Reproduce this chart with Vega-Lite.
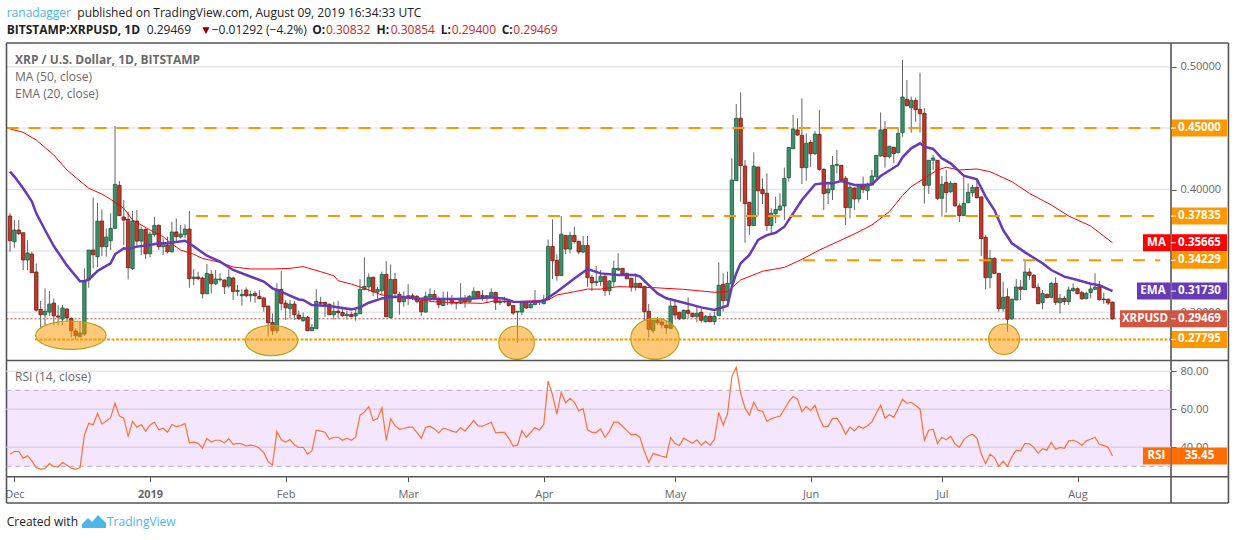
{
"$schema":"https://vega.github.io/schema/vega-lite/v6.json",
"autosize":{"type":"none"},
"width":1234,"height":540,"padding":{"left":0,"right":0,"top":0,"bottom":0},"background":"white",
"config":{"view":{"stroke":null},"font":"Open Sans","axis":{"labelFont":"Open Sans"}},
"datasets":{
"candles":[
{"d":"2018-11-30","o":0.3784,"h":0.3806,"l":0.3493,"c":0.3583},{"d":"2018-12-01","o":0.3575,"h":0.3751,"l":0.3526,"c":0.367},{"d":"2018-12-02","o":0.367,"h":0.3751,"l":0.3629,"c":0.364},{"d":"2018-12-03","o":0.3648,"h":0.3648,"l":0.3344,"c":0.3426},{"d":"2018-12-04","o":0.3426,"h":0.3588,"l":0.3344,"c":0.3483},{"d":"2018-12-05","o":0.3474,"h":0.3493,"l":0.3322,"c":0.3322},{"d":"2018-12-06","o":0.3328,"h":0.3398,"l":0.3005,"c":0.3018},{"d":"2018-12-07","o":0.3024,"h":0.3092,"l":0.2864,"c":0.298},{"d":"2018-12-08","o":0.298,"h":0.3195,"l":0.2896,"c":0.301},{"d":"2018-12-09","o":0.3002,"h":0.3173,"l":0.297,"c":0.3067},
{"d":"2018-12-10","o":0.3075,"h":0.3113,"l":0.2896,"c":0.2972},{"d":"2018-12-11","o":0.297,"h":0.3059,"l":0.2896,"c":0.2961},{"d":"2018-12-12","o":0.2945,"h":0.3059,"l":0.2896,"c":0.3035},{"d":"2018-12-13","o":0.3027,"h":0.3032,"l":0.2923,"c":0.2956},{"d":"2018-12-14","o":0.295,"h":0.2959,"l":0.2796,"c":0.285},{"d":"2018-12-15","o":0.2847,"h":0.2869,"l":0.2779,"c":0.2809},{"d":"2018-12-16","o":0.2801,"h":0.2923,"l":0.2796,"c":0.2831},{"d":"2018-12-17","o":0.2823,"h":0.3358,"l":0.2809,"c":0.326},{"d":"2018-12-18","o":0.3263,"h":0.3507,"l":0.32,"c":0.3507},{"d":"2018-12-19","o":0.3507,"h":0.3936,"l":0.3358,"c":0.3469},
{"d":"2018-12-20","o":0.3453,"h":0.3892,"l":0.3366,"c":0.3743},{"d":"2018-12-21","o":0.3743,"h":0.3838,"l":0.3458,"c":0.3534},{"d":"2018-12-22","o":0.3534,"h":0.3683,"l":0.3453,"c":0.3613},{"d":"2018-12-23","o":0.3583,"h":0.3806,"l":0.3507,"c":0.3683},{"d":"2018-12-24","o":0.3684,"h":0.4517,"l":0.368,"c":0.4042},{"d":"2018-12-25","o":0.4034,"h":0.4069,"l":0.3787,"c":0.3787},{"d":"2018-12-26","o":0.3776,"h":0.3914,"l":0.3548,"c":0.3751},{"d":"2018-12-27","o":0.3757,"h":0.3819,"l":0.3268,"c":0.3363},{"d":"2018-12-28","o":0.3355,"h":0.3825,"l":0.3344,"c":0.3743},{"d":"2018-12-29","o":0.3743,"h":0.3833,"l":0.3534,"c":0.358},
{"d":"2018-12-30","o":0.358,"h":0.3697,"l":0.3466,"c":0.3675},{"d":"2018-12-31","o":0.3675,"h":0.3683,"l":0.3434,"c":0.3477},{"d":"2019-01-01","o":0.3477,"h":0.3656,"l":0.3447,"c":0.3637},{"d":"2019-01-02","o":0.3632,"h":0.3778,"l":0.3616,"c":0.3708},{"d":"2019-01-03","o":0.3708,"h":0.3716,"l":0.3507,"c":0.3534},{"d":"2019-01-04","o":0.3534,"h":0.3602,"l":0.3466,"c":0.3569},{"d":"2019-01-05","o":0.3548,"h":0.3616,"l":0.348,"c":0.3493},{"d":"2019-01-06","o":0.3493,"h":0.3738,"l":0.3485,"c":0.3654},{"d":"2019-01-07","o":0.3654,"h":0.3765,"l":0.3575,"c":0.3616},{"d":"2019-01-08","o":0.3613,"h":0.3711,"l":0.3602,"c":0.3637},
{"d":"2019-01-09","o":0.3632,"h":0.3716,"l":0.3602,"c":0.3678},{"d":"2019-01-10","o":0.3678,"h":0.3825,"l":0.32,"c":0.3274},{"d":"2019-01-11","o":0.3274,"h":0.3352,"l":0.3222,"c":0.3287},{"d":"2019-01-12","o":0.3287,"h":0.3331,"l":0.3263,"c":0.3274},{"d":"2019-01-13","o":0.3279,"h":0.329,"l":0.3113,"c":0.3151},{"d":"2019-01-14","o":0.3151,"h":0.3393,"l":0.3149,"c":0.3317},{"d":"2019-01-15","o":0.3309,"h":0.3344,"l":0.3154,"c":0.3233},{"d":"2019-01-16","o":0.3233,"h":0.3344,"l":0.3222,"c":0.3271},{"d":"2019-01-17","o":0.3265,"h":0.3317,"l":0.3249,"c":0.3271},{"d":"2019-01-18","o":0.3263,"h":0.3268,"l":0.3149,"c":0.3208},
{"d":"2019-01-19","o":0.3214,"h":0.335,"l":0.3195,"c":0.3285},{"d":"2019-01-20","o":0.3279,"h":0.329,"l":0.31,"c":0.317},{"d":"2019-01-21","o":0.317,"h":0.3222,"l":0.3132,"c":0.3179},{"d":"2019-01-22","o":0.3135,"h":0.3187,"l":0.3054,"c":0.3146},{"d":"2019-01-23","o":0.3181,"h":0.3203,"l":0.3122,"c":0.3135},{"d":"2019-01-24","o":0.3135,"h":0.3176,"l":0.3086,"c":0.3146},{"d":"2019-01-25","o":0.3154,"h":0.3173,"l":0.3078,"c":0.3135},{"d":"2019-01-26","o":0.313,"h":0.3181,"l":0.3105,"c":0.3111},{"d":"2019-01-27","o":0.3116,"h":0.3127,"l":0.3005,"c":0.3046},{"d":"2019-01-28","o":0.3051,"h":0.3051,"l":0.2801,"c":0.2915},
{"d":"2019-01-29","o":0.2918,"h":0.2991,"l":0.2815,"c":0.285},{"d":"2019-01-30","o":0.285,"h":0.3236,"l":0.2828,"c":0.3187},{"d":"2019-01-31","o":0.3187,"h":0.3336,"l":0.3018,"c":0.3073},{"d":"2019-02-01","o":0.3075,"h":0.31,"l":0.2937,"c":0.3037},{"d":"2019-02-02","o":0.3029,"h":0.31,"l":0.295,"c":0.3067},{"d":"2019-02-03","o":0.3067,"h":0.3094,"l":0.2937,"c":0.298},{"d":"2019-02-04","o":0.2978,"h":0.3013,"l":0.2937,"c":0.2948},{"d":"2019-02-05","o":0.2932,"h":0.2997,"l":0.2923,"c":0.2959},{"d":"2019-02-06","o":0.2959,"h":0.297,"l":0.2847,"c":0.285},{"d":"2019-02-07","o":0.285,"h":0.2904,"l":0.285,"c":0.2877},
{"d":"2019-02-08","o":0.2866,"h":0.3189,"l":0.2866,"c":0.3089},{"d":"2019-02-09","o":0.3081,"h":0.3127,"l":0.3046,"c":0.3073},{"d":"2019-02-10","o":0.3081,"h":0.3086,"l":0.2964,"c":0.3065},{"d":"2019-02-11","o":0.3065,"h":0.3073,"l":0.2978,"c":0.298},{"d":"2019-02-12","o":0.298,"h":0.3086,"l":0.2942,"c":0.3008},{"d":"2019-02-13","o":0.301,"h":0.3092,"l":0.295,"c":0.2997},{"d":"2019-02-14","o":0.2999,"h":0.3032,"l":0.2964,"c":0.2972},{"d":"2019-02-15","o":0.2972,"h":0.3013,"l":0.2942,"c":0.2983},{"d":"2019-02-16","o":0.2983,"h":0.3005,"l":0.2959,"c":0.2964},{"d":"2019-02-17","o":0.297,"h":0.3032,"l":0.2932,"c":0.2991},
{"d":"2019-02-18","o":0.2988,"h":0.3271,"l":0.2988,"c":0.3187},{"d":"2019-02-19","o":0.3184,"h":0.3447,"l":0.3181,"c":0.3211},{"d":"2019-02-20","o":0.3208,"h":0.3317,"l":0.3168,"c":0.3285},{"d":"2019-02-21","o":0.3285,"h":0.329,"l":0.3132,"c":0.3168},{"d":"2019-02-22","o":0.3165,"h":0.3208,"l":0.3113,"c":0.3187},{"d":"2019-02-23","o":0.3176,"h":0.3331,"l":0.3141,"c":0.3309},{"d":"2019-02-24","o":0.3309,"h":0.3417,"l":0.2959,"c":0.2964},{"d":"2019-02-25","o":0.2956,"h":0.339,"l":0.295,"c":0.3268},{"d":"2019-02-26","o":0.3268,"h":0.3322,"l":0.3127,"c":0.3154},{"d":"2019-02-27","o":0.3146,"h":0.3168,"l":0.298,"c":0.3086},
{"d":"2019-02-28","o":0.3086,"h":0.3168,"l":0.3046,"c":0.3127},{"d":"2019-03-01","o":0.3122,"h":0.323,"l":0.3059,"c":0.3135},{"d":"2019-03-02","o":0.3135,"h":0.3154,"l":0.31,"c":0.3122},{"d":"2019-03-03","o":0.313,"h":0.3141,"l":0.3073,"c":0.3089},{"d":"2019-03-04","o":0.3094,"h":0.31,"l":0.297,"c":0.3005},{"d":"2019-03-05","o":0.3002,"h":0.3168,"l":0.2997,"c":0.313},{"d":"2019-03-06","o":0.3124,"h":0.3195,"l":0.3086,"c":0.3146},{"d":"2019-03-07","o":0.3146,"h":0.3181,"l":0.31,"c":0.3103},{"d":"2019-03-08","o":0.3105,"h":0.3127,"l":0.3032,"c":0.3062},{"d":"2019-03-09","o":0.3054,"h":0.3168,"l":0.3051,"c":0.3113},
{"d":"2019-03-10","o":0.3113,"h":0.3168,"l":0.3059,"c":0.3103},{"d":"2019-03-11","o":0.3105,"h":0.3141,"l":0.3059,"c":0.3075},{"d":"2019-03-12","o":0.3081,"h":0.3086,"l":0.3024,"c":0.3075},{"d":"2019-03-13","o":0.3075,"h":0.3236,"l":0.3067,"c":0.3113},{"d":"2019-03-14","o":0.3113,"h":0.3141,"l":0.3037,"c":0.3086},{"d":"2019-03-15","o":0.3086,"h":0.3141,"l":0.3081,"c":0.313},{"d":"2019-03-16","o":0.3122,"h":0.3203,"l":0.3122,"c":0.317},{"d":"2019-03-17","o":0.317,"h":0.317,"l":0.3127,"c":0.3127},{"d":"2019-03-18","o":0.3138,"h":0.3181,"l":0.3094,"c":0.3127},{"d":"2019-03-19","o":0.3127,"h":0.3141,"l":0.3086,"c":0.3135},
{"d":"2019-03-20","o":0.3132,"h":0.3195,"l":0.3127,"c":0.3162},{"d":"2019-03-21","o":0.3162,"h":0.3168,"l":0.3018,"c":0.3078},{"d":"2019-03-22","o":0.3078,"h":0.31,"l":0.3059,"c":0.3089},{"d":"2019-03-23","o":0.3084,"h":0.3127,"l":0.3073,"c":0.3089},{"d":"2019-03-24","o":0.3089,"h":0.31,"l":0.3046,"c":0.3056},{"d":"2019-03-25","o":0.3056,"h":0.3059,"l":0.2978,"c":0.2994},{"d":"2019-03-26","o":0.3002,"h":0.3008,"l":0.2752,"c":0.3008},{"d":"2019-03-27","o":0.3002,"h":0.3086,"l":0.2978,"c":0.3084},{"d":"2019-03-28","o":0.3084,"h":0.3086,"l":0.3029,"c":0.3035},{"d":"2019-03-29","o":0.3037,"h":0.3086,"l":0.3032,"c":0.3065},
{"d":"2019-03-30","o":0.3062,"h":0.3181,"l":0.3059,"c":0.3094},{"d":"2019-03-31","o":0.3097,"h":0.31,"l":0.3059,"c":0.3084},{"d":"2019-04-01","o":0.307,"h":0.3141,"l":0.3065,"c":0.3105},{"d":"2019-04-02","o":0.3105,"h":0.3594,"l":0.31,"c":0.3537},{"d":"2019-04-03","o":0.3537,"h":0.3757,"l":0.3271,"c":0.342},{"d":"2019-04-04","o":0.3423,"h":0.3472,"l":0.3257,"c":0.3298},{"d":"2019-04-05","o":0.3298,"h":0.3784,"l":0.3298,"c":0.3635},{"d":"2019-04-06","o":0.3626,"h":0.3629,"l":0.3474,"c":0.3515},{"d":"2019-04-07","o":0.3515,"h":0.3656,"l":0.348,"c":0.3626},{"d":"2019-04-08","o":0.3626,"h":0.3697,"l":0.3561,"c":0.3575},
{"d":"2019-04-09","o":0.3578,"h":0.3583,"l":0.3474,"c":0.3491},{"d":"2019-04-10","o":0.3491,"h":0.3621,"l":0.348,"c":0.3545},{"d":"2019-04-11","o":0.3545,"h":0.3621,"l":0.3208,"c":0.3282},{"d":"2019-04-12","o":0.3285,"h":0.3303,"l":0.3173,"c":0.3241},{"d":"2019-04-13","o":0.3241,"h":0.3377,"l":0.3214,"c":0.3252},{"d":"2019-04-14","o":0.3249,"h":0.3344,"l":0.3214,"c":0.3293},{"d":"2019-04-15","o":0.3293,"h":0.3317,"l":0.3133,"c":0.3176},{"d":"2019-04-16","o":0.3176,"h":0.3263,"l":0.3141,"c":0.3255},{"d":"2019-04-17","o":0.3249,"h":0.342,"l":0.3209,"c":0.3358},{"d":"2019-04-18","o":0.3344,"h":0.348,"l":0.3339,"c":0.3358},
{"d":"2019-04-19","o":0.3358,"h":0.3358,"l":0.3304,"c":0.3312},{"d":"2019-04-20","o":0.3317,"h":0.3323,"l":0.3268,"c":0.3274},{"d":"2019-04-21","o":0.3277,"h":0.3282,"l":0.3168,"c":0.3206},{"d":"2019-04-22","o":0.3206,"h":0.3317,"l":0.3176,"c":0.3236},{"d":"2019-04-23","o":0.3236,"h":0.3241,"l":0.3195,"c":0.3203},{"d":"2019-04-24","o":0.3209,"h":0.3214,"l":0.2937,"c":0.3005},{"d":"2019-04-25","o":0.3008,"h":0.3068,"l":0.2796,"c":0.2861},{"d":"2019-04-26","o":0.285,"h":0.2943,"l":0.2829,"c":0.2935},{"d":"2019-04-27","o":0.2937,"h":0.2959,"l":0.2897,"c":0.2916},{"d":"2019-04-28","o":0.2921,"h":0.2951,"l":0.2869,"c":0.2899},
{"d":"2019-04-29","o":0.2894,"h":0.2937,"l":0.2823,"c":0.2875},{"d":"2019-04-30","o":0.2869,"h":0.3095,"l":0.2869,"c":0.3051},{"d":"2019-05-01","o":0.3051,"h":0.3087,"l":0.2951,"c":0.2978},{"d":"2019-05-02","o":0.3,"h":0.3005,"l":0.2937,"c":0.2948},{"d":"2019-05-03","o":0.2948,"h":0.3024,"l":0.2943,"c":0.3016},{"d":"2019-05-04","o":0.3016,"h":0.3122,"l":0.2951,"c":0.2992},{"d":"2019-05-05","o":0.2992,"h":0.2997,"l":0.2959,"c":0.2964},{"d":"2019-05-06","o":0.2964,"h":0.3046,"l":0.2918,"c":0.2992},{"d":"2019-05-07","o":0.3,"h":0.3032,"l":0.2916,"c":0.2935},{"d":"2019-05-08","o":0.2924,"h":0.2978,"l":0.2916,"c":0.2967},
{"d":"2019-05-09","o":0.2967,"h":0.2992,"l":0.2918,"c":0.2924},{"d":"2019-05-10","o":0.2924,"h":0.3005,"l":0.2897,"c":0.2967},{"d":"2019-05-11","o":0.2973,"h":0.3407,"l":0.2973,"c":0.322},{"d":"2019-05-12","o":0.3228,"h":0.3317,"l":0.3005,"c":0.3095},{"d":"2019-05-13","o":0.3095,"h":0.3331,"l":0.3087,"c":0.3236},{"d":"2019-05-14","o":0.323,"h":0.4254,"l":0.323,"c":0.4077},{"d":"2019-05-15","o":0.4072,"h":0.4696,"l":0.4072,"c":0.458},{"d":"2019-05-16","o":0.458,"h":0.4791,"l":0.3901,"c":0.4194},{"d":"2019-05-17","o":0.4191,"h":0.424,"l":0.3567,"c":0.3885},{"d":"2019-05-18","o":0.3896,"h":0.3896,"l":0.3629,"c":0.3706},
{"d":"2019-05-19","o":0.3706,"h":0.4303,"l":0.3706,"c":0.4189},{"d":"2019-05-20","o":0.4183,"h":0.4186,"l":0.3787,"c":0.399},{"d":"2019-05-21","o":0.4001,"h":0.4091,"l":0.3882,"c":0.3966},{"d":"2019-05-22","o":0.3969,"h":0.4132,"l":0.3662,"c":0.3706},{"d":"2019-05-23","o":0.3706,"h":0.3847,"l":0.3629,"c":0.3806},{"d":"2019-05-24","o":0.3803,"h":0.3942,"l":0.3725,"c":0.3838},{"d":"2019-05-25","o":0.3833,"h":0.3969,"l":0.3825,"c":0.3866},{"d":"2019-05-26","o":0.3866,"h":0.4178,"l":0.3752,"c":0.4091},{"d":"2019-05-27","o":0.4096,"h":0.4343,"l":0.4064,"c":0.4343},{"d":"2019-05-28","o":0.4332,"h":0.4607,"l":0.4332,"c":0.4493},
{"d":"2019-05-29","o":0.4485,"h":0.458,"l":0.4436,"c":0.4444},{"d":"2019-05-30","o":0.4441,"h":0.4742,"l":0.4045,"c":0.4178},{"d":"2019-05-31","o":0.4178,"h":0.4457,"l":0.4072,"c":0.4376},{"d":"2019-06-01","o":0.4384,"h":0.4403,"l":0.4181,"c":0.4292},{"d":"2019-06-02","o":0.4292,"h":0.4476,"l":0.4281,"c":0.4452},{"d":"2019-06-03","o":0.4449,"h":0.4647,"l":0.4153,"c":0.4164},{"d":"2019-06-04","o":0.4164,"h":0.4172,"l":0.3833,"c":0.3966},{"d":"2019-06-05","o":0.3972,"h":0.4064,"l":0.3882,"c":0.4004},{"d":"2019-06-06","o":0.3999,"h":0.4273,"l":0.3915,"c":0.4197},{"d":"2019-06-07","o":0.4197,"h":0.4322,"l":0.4132,"c":0.4205},
{"d":"2019-06-08","o":0.4197,"h":0.42,"l":0.4064,"c":0.4077},{"d":"2019-06-09","o":0.4091,"h":0.411,"l":0.3711,"c":0.3852},{"d":"2019-06-10","o":0.3852,"h":0.4037,"l":0.3765,"c":0.4018},{"d":"2019-06-11","o":0.4012,"h":0.4018,"l":0.3833,"c":0.3923},{"d":"2019-06-12","o":0.3923,"h":0.4037,"l":0.3893,"c":0.4029},{"d":"2019-06-13","o":0.4029,"h":0.4105,"l":0.3969,"c":0.3999},{"d":"2019-06-14","o":0.3991,"h":0.4056,"l":0.3915,"c":0.4045},{"d":"2019-06-15","o":0.4037,"h":0.4159,"l":0.4037,"c":0.411},{"d":"2019-06-16","o":0.4104,"h":0.4278,"l":0.4091,"c":0.4278},{"d":"2019-06-17","o":0.4273,"h":0.4628,"l":0.4267,"c":0.4485},
{"d":"2019-06-18","o":0.449,"h":0.4558,"l":0.4178,"c":0.4267},{"d":"2019-06-19","o":0.4267,"h":0.4354,"l":0.4254,"c":0.4352},{"d":"2019-06-20","o":0.4343,"h":0.4349,"l":0.4213,"c":0.4292},{"d":"2019-06-21","o":0.43,"h":0.4498,"l":0.4295,"c":0.4457},{"d":"2019-06-22","o":0.4463,"h":0.5055,"l":0.443,"c":0.4753},{"d":"2019-06-23","o":0.4734,"h":0.4892,"l":0.4675,"c":0.4683},{"d":"2019-06-24","o":0.4666,"h":0.4756,"l":0.4463,"c":0.4726},{"d":"2019-06-25","o":0.4726,"h":0.4748,"l":0.4552,"c":0.465},{"d":"2019-06-26","o":0.4653,"h":0.4951,"l":0.4463,"c":0.4617},{"d":"2019-06-27","o":0.462,"h":0.4661,"l":0.3885,"c":0.4034},
{"d":"2019-06-28","o":0.4034,"h":0.424,"l":0.3963,"c":0.4238},{"d":"2019-06-29","o":0.4238,"h":0.4281,"l":0.4159,"c":0.4257},{"d":"2019-06-30","o":0.4238,"h":0.424,"l":0.3915,"c":0.3928},{"d":"2019-07-01","o":0.3928,"h":0.411,"l":0.3779,"c":0.4042},{"d":"2019-07-02","o":0.4058,"h":0.4159,"l":0.3811,"c":0.3974},{"d":"2019-07-03","o":0.3982,"h":0.4069,"l":0.3969,"c":0.405},{"d":"2019-07-04","o":0.405,"h":0.4056,"l":0.3855,"c":0.3868},{"d":"2019-07-05","o":0.3866,"h":0.3887,"l":0.3735,"c":0.3787},{"d":"2019-07-06","o":0.3787,"h":0.4118,"l":0.3787,"c":0.3887},{"d":"2019-07-07","o":0.3893,"h":0.405,"l":0.3887,"c":0.3977},
{"d":"2019-07-08","o":0.3974,"h":0.4037,"l":0.3942,"c":0.4018},{"d":"2019-07-09","o":0.4018,"h":0.4077,"l":0.3928,"c":0.3933},{"d":"2019-07-10","o":0.3939,"h":0.3942,"l":0.3458,"c":0.36},{"d":"2019-07-11","o":0.3611,"h":0.3629,"l":0.3187,"c":0.3282},{"d":"2019-07-12","o":0.3282,"h":0.3507,"l":0.3195,"c":0.3439},{"d":"2019-07-13","o":0.3439,"h":0.3448,"l":0.3312,"c":0.3317},{"d":"2019-07-14","o":0.3317,"h":0.3317,"l":0.3005,"c":0.303},{"d":"2019-07-15","o":0.303,"h":0.3249,"l":0.3005,"c":0.3122},{"d":"2019-07-16","o":0.3127,"h":0.3195,"l":0.2842,"c":0.2943},{"d":"2019-07-17","o":0.2948,"h":0.3114,"l":0.2937,"c":0.3106},
{"d":"2019-07-18","o":0.31,"h":0.3271,"l":0.31,"c":0.3206},{"d":"2019-07-19","o":0.3206,"h":0.3263,"l":0.31,"c":0.3187},{"d":"2019-07-20","o":0.3184,"h":0.3426,"l":0.3182,"c":0.3328},{"d":"2019-07-21","o":0.3328,"h":0.3358,"l":0.3263,"c":0.3301},{"d":"2019-07-22","o":0.3301,"h":0.3312,"l":0.3195,"c":0.3201},{"d":"2019-07-23","o":0.3203,"h":0.3236,"l":0.3068,"c":0.307},{"d":"2019-07-24","o":0.3079,"h":0.3182,"l":0.3024,"c":0.3154},{"d":"2019-07-25","o":0.3146,"h":0.3154,"l":0.3114,"c":0.3119},{"d":"2019-07-26","o":0.3122,"h":0.3249,"l":0.3114,"c":0.3236},{"d":"2019-07-27","o":0.3236,"h":0.3285,"l":0.306,"c":0.3081},
{"d":"2019-07-28","o":0.3079,"h":0.3149,"l":0.2992,"c":0.3114},{"d":"2019-07-29","o":0.3114,"h":0.3133,"l":0.306,"c":0.3087},{"d":"2019-07-30","o":0.3087,"h":0.3209,"l":0.306,"c":0.3182},{"d":"2019-07-31","o":0.3176,"h":0.3236,"l":0.3168,"c":0.3195},{"d":"2019-08-01","o":0.3192,"h":0.3203,"l":0.3146,"c":0.3152},{"d":"2019-08-02","o":0.316,"h":0.3176,"l":0.31,"c":0.3111},{"d":"2019-08-03","o":0.3111,"h":0.3168,"l":0.3106,"c":0.3154},{"d":"2019-08-04","o":0.316,"h":0.3236,"l":0.3114,"c":0.319},{"d":"2019-08-05","o":0.3187,"h":0.3317,"l":0.3182,"c":0.3206},{"d":"2019-08-06","o":0.3209,"h":0.3255,"l":0.3095,"c":0.3103},
{"d":"2019-08-07","o":0.3108,"h":0.316,"l":0.3068,"c":0.3103},{"d":"2019-08-08","o":0.3106,"h":0.3114,"l":0.306,"c":0.3076},{"d":"2019-08-09","o":0.30832,"h":0.30854,"l":0.294,"c":0.29469}
],
"ema":[
{"d":"2018-11-30","p":0.4145},{"d":"2018-12-01","p":0.4105},{"d":"2018-12-03","p":0.401},{"d":"2018-12-05","p":0.3901},{"d":"2018-12-06","p":0.3806},{"d":"2018-12-08","p":0.367},{"d":"2018-12-10","p":0.354},{"d":"2018-12-13","p":0.3382},{"d":"2018-12-16","p":0.3252},{"d":"2018-12-17","p":0.3252},{"d":"2018-12-18","p":0.3268},{"d":"2018-12-20","p":0.3336},{"d":"2018-12-21","p":0.3358},{"d":"2018-12-23","p":0.3399},{"d":"2018-12-24","p":0.3472},{"d":"2018-12-26","p":0.3521},{"d":"2018-12-27","p":0.3515},{"d":"2018-12-29","p":0.3535},{"d":"2019-01-01","p":0.3548},{"d":"2019-01-03","p":0.3562},{"d":"2019-01-05","p":0.3562},{"d":"2019-01-09","p":0.3583},{"d":"2019-01-10","p":0.3562},{"d":"2019-01-14","p":0.3461},{"d":"2019-01-17","p":0.3412},{"d":"2019-01-20","p":0.3345},{"d":"2019-01-23","p":0.3304},{"d":"2019-01-27","p":0.325},{"d":"2019-01-29","p":0.3195},{"d":"2019-01-30","p":0.3182},{"d":"2019-02-04","p":0.3105},{"d":"2019-02-05","p":0.31},{"d":"2019-02-07","p":0.3059},{"d":"2019-02-11","p":0.3051},{"d":"2019-02-16","p":0.3024},{"d":"2019-02-18","p":0.304},{"d":"2019-02-20","p":0.3078},{"d":"2019-02-23","p":0.3113},{"d":"2019-02-25","p":0.3127},{"d":"2019-03-01","p":0.3122},{"d":"2019-03-03","p":0.3113},{"d":"2019-03-08","p":0.3108},{"d":"2019-03-12","p":0.3108},{"d":"2019-03-16","p":0.3113},{"d":"2019-03-20","p":0.3122},{"d":"2019-03-23","p":0.3111},{"d":"2019-03-25","p":0.3086},{"d":"2019-03-30","p":0.3084},{"d":"2019-04-01","p":0.3094},{"d":"2019-04-04","p":0.3168},{"d":"2019-04-08","p":0.3276},{"d":"2019-04-11","p":0.3352},{"d":"2019-04-14","p":0.3317},{"d":"2019-04-18","p":0.3304},{"d":"2019-04-22","p":0.3304},{"d":"2019-04-23","p":0.329},{"d":"2019-04-25","p":0.3222},{"d":"2019-04-27","p":0.3154},{"d":"2019-04-29","p":0.3114},{"d":"2019-05-03","p":0.3078},{"d":"2019-05-07","p":0.304},{"d":"2019-05-10","p":0.3019},{"d":"2019-05-13","p":0.3054},{"d":"2019-05-14","p":0.3209},{"d":"2019-05-15","p":0.3317},{"d":"2019-05-16","p":0.3399},{"d":"2019-05-18","p":0.3467},{"d":"2019-05-20","p":0.3589},{"d":"2019-05-22","p":0.3629},{"d":"2019-05-24","p":0.3648},{"d":"2019-05-26","p":0.3697},{"d":"2019-05-28","p":0.3806},{"d":"2019-05-30","p":0.3915},{"d":"2019-06-02","p":0.4042},{"d":"2019-06-04","p":0.405},{"d":"2019-06-06","p":0.405},{"d":"2019-06-08","p":0.4069},{"d":"2019-06-11","p":0.4037},{"d":"2019-06-14","p":0.4037},{"d":"2019-06-15","p":0.4042},{"d":"2019-06-17","p":0.411},{"d":"2019-06-21","p":0.42},{"d":"2019-06-22","p":0.4262},{"d":"2019-06-24","p":0.4335},{"d":"2019-06-26","p":0.4376},{"d":"2019-06-27","p":0.4349},{"d":"2019-06-29","p":0.433},{"d":"2019-07-01","p":0.4254},{"d":"2019-07-03","p":0.4213},{"d":"2019-07-06","p":0.4113},{"d":"2019-07-09","p":0.4083},{"d":"2019-07-11","p":0.3942},{"d":"2019-07-13","p":0.3833},{"d":"2019-07-15","p":0.367},{"d":"2019-07-17","p":0.3562},{"d":"2019-07-20","p":0.3488},{"d":"2019-07-24","p":0.3399},{"d":"2019-07-26","p":0.3344},{"d":"2019-07-29","p":0.329},{"d":"2019-08-01","p":0.3263},{"d":"2019-08-04","p":0.3232},{"d":"2019-08-06","p":0.322},{"d":"2019-08-09","p":0.3173}
],
"ma":[
{"d":"2018-11-30","p":0.4493},{"d":"2018-12-03","p":0.4466},{"d":"2018-12-06","p":0.4403},{"d":"2018-12-10","p":0.4281},{"d":"2018-12-13","p":0.4159},{"d":"2018-12-16","p":0.4069},{"d":"2018-12-18","p":0.401},{"d":"2018-12-21","p":0.3963},{"d":"2018-12-23","p":0.392},{"d":"2018-12-26","p":0.3847},{"d":"2018-12-28","p":0.3752},{"d":"2019-01-01","p":0.367},{"d":"2019-01-04","p":0.3616},{"d":"2019-01-06","p":0.3556},{"d":"2019-01-08","p":0.3507},{"d":"2019-01-11","p":0.3472},{"d":"2019-01-13","p":0.3439},{"d":"2019-01-17","p":0.3407},{"d":"2019-01-20","p":0.3369},{"d":"2019-01-24","p":0.3353},{"d":"2019-01-29","p":0.3353},{"d":"2019-02-02","p":0.3358},{"d":"2019-02-05","p":0.3372},{"d":"2019-02-09","p":0.3331},{"d":"2019-02-12","p":0.3298},{"d":"2019-02-13","p":0.3257},{"d":"2019-02-16","p":0.323},{"d":"2019-02-19","p":0.3195},{"d":"2019-02-23","p":0.3141},{"d":"2019-02-26","p":0.3127},{"d":"2019-03-03","p":0.3105},{"d":"2019-03-07","p":0.3086},{"d":"2019-03-12","p":0.3078},{"d":"2019-03-18","p":0.3073},{"d":"2019-03-21","p":0.3094},{"d":"2019-03-25","p":0.3086},{"d":"2019-03-30","p":0.3094},{"d":"2019-04-02","p":0.31},{"d":"2019-04-04","p":0.3141},{"d":"2019-04-08","p":0.3168},{"d":"2019-04-11","p":0.3189},{"d":"2019-04-14","p":0.3189},{"d":"2019-04-18","p":0.3209},{"d":"2019-04-26","p":0.3201},{"d":"2019-05-03","p":0.3187},{"d":"2019-05-10","p":0.3163},{"d":"2019-05-13","p":0.3168},{"d":"2019-05-16","p":0.3263},{"d":"2019-05-21","p":0.3334},{"d":"2019-05-26","p":0.3366},{"d":"2019-05-30","p":0.3431},{"d":"2019-06-03","p":0.3507},{"d":"2019-06-11","p":0.3638},{"d":"2019-06-15","p":0.3711},{"d":"2019-06-19","p":0.382},{"d":"2019-06-22","p":0.395},{"d":"2019-06-24","p":0.4023},{"d":"2019-06-27","p":0.4091},{"d":"2019-06-30","p":0.4159},{"d":"2019-07-02","p":0.4181},{"d":"2019-07-05","p":0.4159},{"d":"2019-07-09","p":0.4167},{"d":"2019-07-12","p":0.4145},{"d":"2019-07-17","p":0.4064},{"d":"2019-07-21","p":0.3969},{"d":"2019-07-26","p":0.3874},{"d":"2019-07-30","p":0.3784},{"d":"2019-08-04","p":0.3703},{"d":"2019-08-06","p":0.3648},{"d":"2019-08-09","p":0.35665}
],
"rsi":[
{"d":"2018-11-30","v":36.4},{"d":"2018-12-01","v":37.8},{"d":"2018-12-02","v":37.9},{"d":"2018-12-03","v":34.2},{"d":"2018-12-04","v":35.6},{"d":"2018-12-05","v":32.8},{"d":"2018-12-06","v":29.3},{"d":"2018-12-07","v":28.5},{"d":"2018-12-08","v":28.8},{"d":"2018-12-09","v":31.4},{"d":"2018-12-10","v":29.9},{"d":"2018-12-11","v":29.7},{"d":"2018-12-12","v":32},{"d":"2018-12-13","v":30.7},{"d":"2018-12-14","v":29},{"d":"2018-12-15","v":28.5},{"d":"2018-12-16","v":29.2},{"d":"2018-12-17","v":46.5},{"d":"2018-12-18","v":52.7},{"d":"2018-12-19","v":51.8},{"d":"2018-12-20","v":57.9},{"d":"2018-12-21","v":52.3},{"d":"2018-12-22","v":53.9},{"d":"2018-12-23","v":55.6},{"d":"2018-12-24","v":63.2},{"d":"2018-12-25","v":56.5},{"d":"2018-12-26","v":55.3},{"d":"2018-12-27","v":45.8},{"d":"2018-12-28","v":53.7},{"d":"2018-12-29","v":50.6},{"d":"2018-12-30","v":52},{"d":"2018-12-31","v":48.5},
{"d":"2019-01-01","v":51.8},{"d":"2019-01-02","v":53.2},{"d":"2019-01-03","v":49.2},{"d":"2019-01-04","v":50},{"d":"2019-01-05","v":47.9},{"d":"2019-01-06","v":52},{"d":"2019-01-07","v":50.9},{"d":"2019-01-08","v":51.4},{"d":"2019-01-09","v":52.5},{"d":"2019-01-10","v":42.3},{"d":"2019-01-11","v":42.7},{"d":"2019-01-12","v":42.1},{"d":"2019-01-13","v":39.5},{"d":"2019-01-14","v":44.6},{"d":"2019-01-15","v":42.8},{"d":"2019-01-16","v":43.7},{"d":"2019-01-17","v":43.7},{"d":"2019-01-18","v":42.3},{"d":"2019-01-19","v":44.6},{"d":"2019-01-20","v":41.6},{"d":"2019-01-21","v":42.1},{"d":"2019-01-22","v":41.8},{"d":"2019-01-23","v":40.7},{"d":"2019-01-24","v":41.1},{"d":"2019-01-25","v":40.7},{"d":"2019-01-26","v":39.5},{"d":"2019-01-27","v":37.2},{"d":"2019-01-28","v":32.5},{"d":"2019-01-29","v":30.6},{"d":"2019-01-30","v":48.3},{"d":"2019-01-31","v":43.9},
{"d":"2019-02-01","v":42.8},{"d":"2019-02-02","v":44.1},{"d":"2019-02-03","v":41.3},{"d":"2019-02-04","v":39.9},{"d":"2019-02-05","v":40},{"d":"2019-02-06","v":36.4},{"d":"2019-02-07","v":38.1},{"d":"2019-02-08","v":49},{"d":"2019-02-09","v":48.5},{"d":"2019-02-10","v":47.9},{"d":"2019-02-11","v":44.2},{"d":"2019-02-12","v":45.3},{"d":"2019-02-13","v":45.3},{"d":"2019-02-14","v":43.7},{"d":"2019-02-15","v":44.8},{"d":"2019-02-16","v":43.7},{"d":"2019-02-17","v":45.3},{"d":"2019-02-18","v":56.9},{"d":"2019-02-19","v":58.5},{"d":"2019-02-20","v":61.4},{"d":"2019-02-21","v":54.1},{"d":"2019-02-22","v":55.1},{"d":"2019-02-23","v":60.9},{"d":"2019-02-24","v":43.7},{"d":"2019-02-25","v":55},{"d":"2019-02-26","v":51.4},{"d":"2019-02-27","v":49.5},{"d":"2019-02-28","v":49.9},
{"d":"2019-03-01","v":50.6},{"d":"2019-03-02","v":50.6},{"d":"2019-03-03","v":47.9},{"d":"2019-03-04","v":44.8},{"d":"2019-03-05","v":50.4},{"d":"2019-03-06","v":51.1},{"d":"2019-03-07","v":49.7},{"d":"2019-03-08","v":47.6},{"d":"2019-03-09","v":50},{"d":"2019-03-10","v":49.5},{"d":"2019-03-11","v":48.5},{"d":"2019-03-12","v":47.9},{"d":"2019-03-13","v":50.4},{"d":"2019-03-14","v":48.5},{"d":"2019-03-15","v":51.3},{"d":"2019-03-16","v":54.1},{"d":"2019-03-17","v":51.3},{"d":"2019-03-18","v":51.1},{"d":"2019-03-19","v":52.1},{"d":"2019-03-20","v":53.2},{"d":"2019-03-21","v":47.6},{"d":"2019-03-22","v":47.9},{"d":"2019-03-23","v":47.9},{"d":"2019-03-24","v":44.8},{"d":"2019-03-25","v":40.6},{"d":"2019-03-26","v":41.1},{"d":"2019-03-27","v":48.8},{"d":"2019-03-28","v":45.3},{"d":"2019-03-29","v":47.8},{"d":"2019-03-30","v":50.4},{"d":"2019-03-31","v":49},
{"d":"2019-04-01","v":52.1},{"d":"2019-04-02","v":74.8},{"d":"2019-04-03","v":67.6},{"d":"2019-04-04","v":57.4},{"d":"2019-04-05","v":69},{"d":"2019-04-06","v":63.4},{"d":"2019-04-07","v":65.8},{"d":"2019-04-08","v":63.7},{"d":"2019-04-09","v":59.2},{"d":"2019-04-10","v":60.4},{"d":"2019-04-11","v":49.2},{"d":"2019-04-12","v":47.9},{"d":"2019-04-13","v":47.9},{"d":"2019-04-14","v":49.7},{"d":"2019-04-15","v":45.3},{"d":"2019-04-16","v":48.3},{"d":"2019-04-17","v":53.2},{"d":"2019-04-18","v":53.2},{"d":"2019-04-19","v":51.1},{"d":"2019-04-20","v":48.8},{"d":"2019-04-21","v":46.5},{"d":"2019-04-22","v":46.9},{"d":"2019-04-23","v":45.1},{"d":"2019-04-24","v":37.8},{"d":"2019-04-25","v":32.1},{"d":"2019-04-26","v":36.7},{"d":"2019-04-27","v":36},{"d":"2019-04-28","v":35.3},{"d":"2019-04-29","v":34.8},{"d":"2019-04-30","v":45.1},
{"d":"2019-05-01","v":42},{"d":"2019-05-02","v":40.9},{"d":"2019-05-03","v":44.8},{"d":"2019-05-04","v":43.5},{"d":"2019-05-05","v":42.1},{"d":"2019-05-06","v":43.9},{"d":"2019-05-07","v":41.1},{"d":"2019-05-08","v":43.2},{"d":"2019-05-09","v":41.1},{"d":"2019-05-10","v":44.1},{"d":"2019-05-11","v":58.3},{"d":"2019-05-12","v":51.6},{"d":"2019-05-13","v":57.6},{"d":"2019-05-14","v":77.2},{"d":"2019-05-15","v":82.1},{"d":"2019-05-16","v":68.5},{"d":"2019-05-17","v":60.6},{"d":"2019-05-18","v":56.9},{"d":"2019-05-19","v":63.7},{"d":"2019-05-20","v":59.5},{"d":"2019-05-21","v":59},{"d":"2019-05-22","v":53.7},{"d":"2019-05-23","v":55.1},{"d":"2019-05-24","v":55.8},{"d":"2019-05-25","v":56.4},{"d":"2019-05-26","v":60},{"d":"2019-05-27","v":64.1},{"d":"2019-05-28","v":66.7},{"d":"2019-05-29","v":65.3},{"d":"2019-05-30","v":58.8},{"d":"2019-05-31","v":61.4},
{"d":"2019-06-01","v":59.3},{"d":"2019-06-02","v":62.1},{"d":"2019-06-03","v":55.3},{"d":"2019-06-04","v":50.6},{"d":"2019-06-05","v":51.1},{"d":"2019-06-06","v":55.1},{"d":"2019-06-07","v":55.3},{"d":"2019-06-08","v":51.8},{"d":"2019-06-09","v":46.9},{"d":"2019-06-10","v":50.6},{"d":"2019-06-11","v":48.6},{"d":"2019-06-12","v":51.1},{"d":"2019-06-13","v":50},{"d":"2019-06-14","v":51.4},{"d":"2019-06-15","v":53.4},{"d":"2019-06-16","v":57.9},{"d":"2019-06-17","v":62.1},{"d":"2019-06-18","v":55.3},{"d":"2019-06-19","v":57.2},{"d":"2019-06-20","v":55.8},{"d":"2019-06-21","v":60.4},{"d":"2019-06-22","v":65.3},{"d":"2019-06-23","v":63.2},{"d":"2019-06-24","v":63.7},{"d":"2019-06-25","v":62},{"d":"2019-06-26","v":60.2},{"d":"2019-06-27","v":43.7},{"d":"2019-06-28","v":49},{"d":"2019-06-29","v":49.5},{"d":"2019-06-30","v":42.1},
{"d":"2019-07-01","v":45.3},{"d":"2019-07-02","v":43.9},{"d":"2019-07-03","v":45.8},{"d":"2019-07-04","v":41.8},{"d":"2019-07-05","v":40},{"d":"2019-07-06","v":43.9},{"d":"2019-07-07","v":46},{"d":"2019-07-08","v":46.9},{"d":"2019-07-09","v":44.8},{"d":"2019-07-10","v":36.5},{"d":"2019-07-11","v":31.4},{"d":"2019-07-12","v":36.4},{"d":"2019-07-13","v":34.6},{"d":"2019-07-14","v":30},{"d":"2019-07-15","v":32.7},{"d":"2019-07-16","v":29.9},{"d":"2019-07-17","v":35.1},{"d":"2019-07-18","v":38.5},{"d":"2019-07-19","v":38.1},{"d":"2019-07-20","v":42.1},{"d":"2019-07-21","v":41.8},{"d":"2019-07-22","v":40},{"d":"2019-07-23","v":36.9},{"d":"2019-07-24","v":39.3},{"d":"2019-07-25","v":38.5},{"d":"2019-07-26","v":42.7},{"d":"2019-07-27","v":39},{"d":"2019-07-28","v":39.9},{"d":"2019-07-29","v":39.5},{"d":"2019-07-30","v":43.4},{"d":"2019-07-31","v":43.7},
{"d":"2019-08-01","v":42.8},{"d":"2019-08-02","v":41.1},{"d":"2019-08-03","v":43.4},{"d":"2019-08-04","v":44.2},{"d":"2019-08-05","v":45.3},{"d":"2019-08-06","v":41.6},{"d":"2019-08-07","v":40.9},{"d":"2019-08-08","v":40},{"d":"2019-08-09","v":35.45}
],
"months":[{"d":"2018-12-01"},{"d":"2019-01-01"},{"d":"2019-02-01"},{"d":"2019-03-01"},{"d":"2019-04-01"},{"d":"2019-05-01"},{"d":"2019-06-01"},{"d":"2019-07-01"},{"d":"2019-08-01"}],
"levels":[{"d":"2018-11-29T04:40:00Z","e":"2019-08-19T22:00:00Z","p":0.45},{"d":"2019-01-11T12:00:00Z","e":"2019-08-19T22:00:00Z","p":0.37835},{"d":"2019-05-30T06:00:00Z","e":"2019-08-19T22:00:00Z","p":0.34229}],
"support":[{"d":"2018-12-05T17:00:00Z","e":"2019-08-22T08:53:00Z","p":0.27795}],
"last":[{"d":"2018-11-29T04:40:00Z","e":"2019-08-22T08:53:00Z","p":0.29469}],
"ellipses":[{"d":"2018-12-13T22:00:00Z","p":0.28135,"s":"a"},{"d":"2019-01-28T19:00:00Z","p":0.27704,"s":"b"},{"d":"2019-03-25T19:00:00Z","p":0.27524,"s":"c"},{"d":"2019-04-26T10:00:00Z","p":0.27842,"s":"d"},{"d":"2019-07-15T05:00:00Z","p":0.27801,"s":"e"}],
"hframe":[{"d":"2018-11-29T04:40:00Z","e":"2019-09-04T12:00:00Z","p":0.5193},{"d":"2018-11-29T04:40:00Z","e":"2019-09-04T12:00:00Z","p":0.26075},{"d":"2018-11-29T04:40:00Z","e":"2019-09-04T12:00:00Z","p":0.16613},{"d":"2018-11-29T04:40:00Z","e":"2019-09-04T12:00:00Z","p":0.1447}],
"vframe":[{"d":"2018-11-29T04:40:00Z","p":0.5193,"q":0.1447},{"d":"2019-08-22T08:53:00Z","p":0.5193,"q":0.1447},{"d":"2019-09-04T12:00:00Z","p":0.5193,"q":0.1447}],
"tags":[
{"d":"2019-08-22T14:24:00Z","e":"2019-09-04T04:00:00Z","m":"2019-08-28T21:00:00Z","p":0.45,"t":"0.45000","k":"level"},
{"d":"2019-08-22T14:24:00Z","e":"2019-09-04T04:00:00Z","m":"2019-08-28T21:00:00Z","p":0.37835,"t":"0.37835","k":"level"},
{"d":"2019-08-15T23:00:00Z","e":"2019-08-22T06:00:00Z","m":"2019-08-19T01:00:00Z","p":0.35665,"t":"MA","k":"ma"},
{"d":"2019-08-22T14:24:00Z","e":"2019-09-04T04:00:00Z","m":"2019-08-28T21:00:00Z","p":0.35665,"t":"0.35665","k":"ma"},
{"d":"2019-08-22T14:24:00Z","e":"2019-09-04T04:00:00Z","m":"2019-08-28T21:00:00Z","p":0.34229,"t":"0.34229","k":"level"},
{"d":"2019-08-14T14:24:00Z","e":"2019-08-22T06:00:00Z","m":"2019-08-18T06:00:00Z","p":0.3173,"t":"EMA","k":"ema"},
{"d":"2019-08-22T14:24:00Z","e":"2019-09-04T04:00:00Z","m":"2019-08-28T21:00:00Z","p":0.3173,"t":"0.31730","k":"ema"},
{"d":"2019-08-10T17:00:00Z","e":"2019-08-22T06:00:00Z","m":"2019-08-16T10:00:00Z","p":0.29469,"t":"XRPUSD","k":"last"},
{"d":"2019-08-22T14:24:00Z","e":"2019-09-04T04:00:00Z","m":"2019-08-28T21:00:00Z","p":0.29469,"t":"0.29469","k":"last"},
{"d":"2019-08-22T14:24:00Z","e":"2019-09-04T04:00:00Z","m":"2019-08-28T21:00:00Z","p":0.27795,"t":"0.27795","k":"level"}
],
"tagticks":[{"d":"2019-08-22T08:53:00Z","e":"2019-08-23T12:00:00Z","p":0.45},{"d":"2019-08-22T08:53:00Z","e":"2019-08-23T12:00:00Z","p":0.37835},{"d":"2019-08-22T08:53:00Z","e":"2019-08-23T12:00:00Z","p":0.35665},{"d":"2019-08-22T08:53:00Z","e":"2019-08-23T12:00:00Z","p":0.34229},{"d":"2019-08-22T08:53:00Z","e":"2019-08-23T12:00:00Z","p":0.3173},{"d":"2019-08-22T08:53:00Z","e":"2019-08-23T12:00:00Z","p":0.29469},{"d":"2019-08-22T08:53:00Z","e":"2019-08-23T12:00:00Z","p":0.27795}],
"notes":[
{"d":"2018-11-29T05:46:00Z","p":0.54381,"t":"ranadagger","k":"blue"},
{"d":"2018-12-15T09:00:00Z","p":0.54381,"t":"published on TradingView.com, August 09, 2019 16:34:33 UTC","k":"dark"},
{"d":"2018-12-31T05:46:00Z","p":0.52997,"t":"0.29469","k":"dark"},
{"d":"2019-01-12T10:00:00Z","p":0.52997,"t":"▼","k":"maroon"},
{"d":"2019-01-15T02:24:00Z","p":0.52997,"t":"−0.01292 (−4.2%)","k":"dark"},
{"d":"2019-02-10T05:00:00Z","p":0.52997,"t":"0.30832","k":"red"},
{"d":"2019-02-25T00:00:00Z","p":0.52997,"t":"0.30854","k":"red"},
{"d":"2019-03-10T22:50:00Z","p":0.52997,"t":"0.29400","k":"red"},
{"d":"2019-03-25T00:45:00Z","p":0.52997,"t":"0.29469","k":"red"},
{"d":"2018-12-01T03:18:00Z","p":0.49161,"t":"MA (50, close)","k":"gray"},
{"d":"2018-12-01T03:18:00Z","p":0.47776,"t":"EMA (20, close)","k":"gray"},
{"d":"2018-12-01T03:18:00Z","p":0.24731,"t":"RSI (14, close)","k":"gray"},
{"d":"2018-11-29T05:46:00Z","p":0.12923,"t":"Created with","k":"dark"},
{"d":"2018-12-22T04:00:00Z","p":0.12923,"t":"TradingView","k":"blue"}
],
"boldnotes":[
{"d":"2018-11-29T05:46:00Z","p":0.52997,"t":"BITSTAMP:XRPUSD, 1D","k":"dark"},
{"d":"2019-02-07T02:00:00Z","p":0.52997,"t":"O:","k":"dark"},
{"d":"2019-02-21T19:00:00Z","p":0.52997,"t":"H:","k":"dark"},
{"d":"2019-03-08T10:30:00Z","p":0.52997,"t":"L:","k":"dark"},
{"d":"2019-03-22T09:00:00Z","p":0.52997,"t":"C:","k":"dark"},
{"d":"2018-12-01T03:18:00Z","p":0.50545,"t":"XRP / U.S. Dollar, 1D, BITSTAMP","k":"gray"}
]
},
"encoding":{"x":{"field":"d","type":"temporal","title":null,
"scale":{"type":"utc","domain":[1543338120000,1567708140000],"nice":false,"padding":0},
"axis":{"orient":"bottom","offset":-63.3,"domain":false,"grid":false,"tickColor":"#555","tickSize":5,"labelColor":"#666","labelFontSize":11,"labelPadding":7,"labelOverlap":false,"labelFlush":false,
"values":[{"year":2018,"month":12,"date":1,"utc":true},{"year":2019,"month":1,"date":1,"utc":true},{"year":2019,"month":2,"date":1,"utc":true},{"year":2019,"month":3,"date":1,"utc":true},{"year":2019,"month":4,"date":1,"utc":true},{"year":2019,"month":5,"date":1,"utc":true},{"year":2019,"month":6,"date":1,"utc":true},{"year":2019,"month":7,"date":1,"utc":true},{"year":2019,"month":8,"date":1,"utc":true}],
"labelExpr":"utcmonth(datum.value)==0 ? '2019' : utcFormat(datum.value,'%b')",
"labelFontWeight":{"condition":{"test":"utcmonth(datum.value)==0","value":"bold"},"value":"normal"}}}},
"resolve":{"scale":{"y":"independent"}},
"layer":[
{"encoding":{"y":{"field":"p","type":"quantitative","title":null,
"scale":{"domain":[0.11458,0.55432],"nice":false,"zero":false,"padding":0},
"axis":{"orient":"right","offset":-63,"domain":false,"grid":false,"values":[0.5,0.4,0.3],"format":".5f","tickColor":"#555","tickSize":5,"labelColor":"#666","labelFontSize":11,"labelPadding":4}}},
"layer":[
{"data":{"name":"months"},"mark":{"type":"rule","color":"#e6e6e6","strokeWidth":1.5},"encoding":{"y":{"datum":0.5193,"type":"quantitative"},"y2":{"datum":0.16613}}},
{"data":{"values":[{"d":"2018-11-29T04:40:00Z","e":"2019-08-22T08:53:00Z","p":0.5},{"d":"2018-11-29T04:40:00Z","e":"2019-08-22T08:53:00Z","p":0.45},{"d":"2018-11-29T04:40:00Z","e":"2019-08-22T08:53:00Z","p":0.4},{"d":"2018-11-29T04:40:00Z","e":"2019-08-22T08:53:00Z","p":0.35},{"d":"2018-11-29T04:40:00Z","e":"2019-08-22T08:53:00Z","p":0.3}]},"mark":{"type":"rule","color":"#e6e6e6","strokeWidth":1.5},"encoding":{"x2":{"field":"e"}}},
{"data":{"name":"last"},"mark":{"type":"rule","color":"#b5473a","strokeWidth":1,"strokeDash":[2,2]},"encoding":{"x2":{"field":"e"}}},
{"data":{"name":"candles"},"mark":{"type":"rule","color":"#666","strokeWidth":1},"encoding":{"y":{"field":"l","type":"quantitative"},"y2":{"field":"h"}}},
{"data":{"name":"candles"},"mark":{"type":"bar","size":3.4,"strokeWidth":0.8},"encoding":{"y":{"field":"o","type":"quantitative"},"y2":{"field":"c"},
"fill":{"condition":{"test":"datum.c>=datum.o","value":"#3e8f6a"},"value":"#c0392b"},
"stroke":{"condition":{"test":"datum.c>=datum.o","value":"#1c5c3c"},"value":"#6e1a10"}}},
{"data":{"name":"ma"},"mark":{"type":"line","color":"#ff0000","strokeWidth":1}},
{"data":{"name":"ema"},"mark":{"type":"line","color":"#673ab7","strokeWidth":2.5}},
{"data":{"name":"ellipses"},"mark":{"type":"point","filled":true,"fill":"#ff9800","fillOpacity":0.52,"stroke":"#b8a020","strokeWidth":1.2,"strokeOpacity":1,"opacity":1,"size":4},
"encoding":{"shape":{"field":"s","type":"nominal","legend":null,"scale":{"domain":["a","b","c","d","e"],"range":["M-35.2,0A35.2,14.2,0,1,1,35.2,0A35.2,14.2,0,1,1,-35.2,0Z","M-26.2,0A26.2,15.2,0,1,1,26.2,0A26.2,15.2,0,1,1,-26.2,0Z","M-17.8,0A17.8,16.7,0,1,1,17.8,0A17.8,16.7,0,1,1,-17.8,0Z","M-24.2,0A24.2,20.5,0,1,1,24.2,0A24.2,20.5,0,1,1,-24.2,0Z","M-15.5,0A15.5,15.3,0,1,1,15.5,0A15.5,15.3,0,1,1,-15.5,0Z"]}}}},
{"data":{"name":"levels"},"mark":{"type":"rule","color":"#ff9800","strokeWidth":2,"strokeDash":[12,10]},"encoding":{"x2":{"field":"e"}}},
{"data":{"name":"support"},"mark":{"type":"rule","color":"#ff9800","strokeWidth":2,"strokeDash":[3,1.5]},"encoding":{"x2":{"field":"e"}}},
{"data":{"values":[{"d":"2018-11-27T17:02:00Z","e":"2018-11-29T03:00:00Z","p":0.1553}]},"mark":{"type":"bar","orient":"horizontal","size":22,"fill":"white"},"encoding":{"x2":{"field":"e"}}},
{"data":{"name":"hframe"},"mark":{"type":"rule","color":"#555","strokeWidth":1.6},"encoding":{"x2":{"field":"e"}}},
{"data":{"name":"vframe"},"mark":{"type":"rule","color":"#555","strokeWidth":1.6},"encoding":{"y2":{"field":"q"}}},
{"data":{"name":"tags"},"mark":{"type":"bar","orient":"horizontal","size":17},"encoding":{"x2":{"field":"e"},"color":{"field":"k","type":"nominal","legend":null,"scale":{"domain":["level","ma","ema","last","blue","dark","gray","red","maroon"],"range":["#ff9800","#ff0000","#673ab7","#d5533f","#4db6e8","#222222","#6a6a6a","#c62828","#8b0000"]}}}},
{"data":{"name":"tagticks"},"mark":{"type":"rule","color":"white","strokeWidth":1},"encoding":{"x2":{"field":"e"}}},
{"data":{"name":"tags"},"mark":{"type":"text","color":"white","fontWeight":"bold","fontSize":11.5,"font":"Open Sans"},"encoding":{"x":{"field":"m","type":"temporal"},"text":{"field":"t"},"color":{"value":"white"}}},
{"data":{"name":"notes"},"mark":{"type":"text","align":"left","fontSize":12,"font":"Open Sans"},"encoding":{"text":{"field":"t"},"color":{"field":"k","type":"nominal","legend":null}}},
{"data":{"name":"boldnotes"},"mark":{"type":"text","align":"left","fontSize":12,"fontWeight":"bold","font":"Open Sans"},"encoding":{"text":{"field":"t"},"color":{"field":"k","type":"nominal","legend":null}}},
{"data":{"values":[{"d":"2018-12-19T05:00:00Z","p":0.12923}]},"mark":{"type":"point","filled":true,"fill":"#4db6e8","opacity":1,"size":4,"shape":"M-12,6L-12,2L-6,-4L-2,0L4,-7L8,-3L12,1L12,6Z"}}
]},
{"encoding":{"y":{"field":"v","type":"quantitative","title":null,
"scale":{"domain":[-8.79,275.42],"nice":false,"zero":false,"padding":0},
"axis":{"orient":"right","offset":-63,"domain":false,"grid":false,"values":[80,60,40],"format":".2f","tickColor":"#555","tickSize":5,"labelColor":"#666","labelFontSize":11,"labelPadding":4}}},
"layer":[
{"data":{"values":[{"d":"2018-11-29T04:40:00Z","e":"2019-08-22T08:53:00Z","v":80},{"d":"2018-11-29T04:40:00Z","e":"2019-08-22T08:53:00Z","v":60},{"d":"2018-11-29T04:40:00Z","e":"2019-08-22T08:53:00Z","v":40}]},"mark":{"type":"rule","color":"#e6e6e6","strokeWidth":1.5},"encoding":{"x2":{"field":"e"}}},
{"data":{"values":[{"d":"2018-11-29T04:40:00Z","e":"2019-08-22T08:53:00Z","v":70,"w":30}]},"mark":{"type":"rect","fill":"#8705eb","opacity":0.1},"encoding":{"x2":{"field":"e"},"y2":{"field":"w"}}},
{"data":{"values":[{"d":"2018-11-29T04:40:00Z","e":"2019-08-22T08:53:00Z","v":70},{"d":"2018-11-29T04:40:00Z","e":"2019-08-22T08:53:00Z","v":30}]},"mark":{"type":"rule","color":"#b9abc4","strokeWidth":1,"strokeDash":[5,4]},"encoding":{"x2":{"field":"e"}}},
{"data":{"name":"rsi"},"mark":{"type":"line","color":"#ff7035","strokeWidth":1.2}},
{"data":{"values":[{"d":"2019-08-15T23:00:00Z","e":"2019-08-22T06:00:00Z","v":35.45},{"d":"2019-08-22T14:24:00Z","e":"2019-09-04T04:00:00Z","v":35.45}]},"mark":{"type":"bar","orient":"horizontal","size":17,"fill":"#ff6d00"},"encoding":{"x2":{"field":"e"}}},
{"data":{"values":[{"d":"2019-08-19T01:00:00Z","v":35.45,"t":"RSI"},{"d":"2019-08-28T21:00:00Z","v":35.45,"t":"35.45"}]},"mark":{"type":"text","color":"white","fontWeight":"bold","fontSize":11.5,"font":"Open Sans"},"encoding":{"text":{"field":"t"}}}
]}
]
}
